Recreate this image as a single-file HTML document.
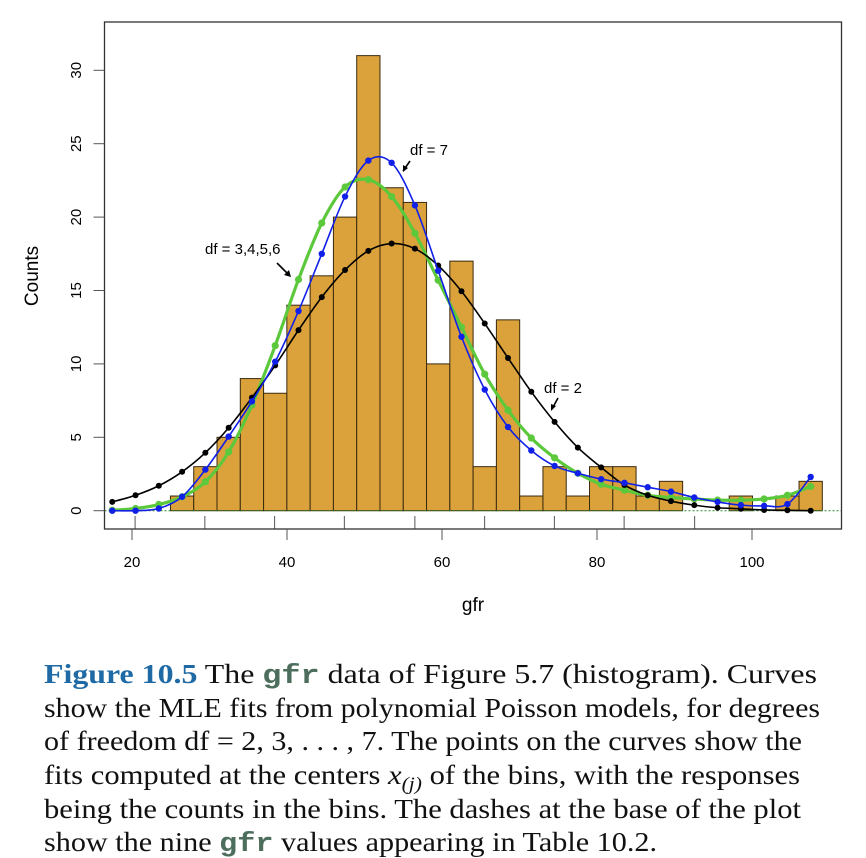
<!DOCTYPE html>
<html><head><meta charset="utf-8"><style>
html,body{margin:0;padding:0;background:#fff;width:866px;height:858px;overflow:hidden}
svg{display:block}
</style></head><body>
<svg id="chart" width="866" height="858" xmlns="http://www.w3.org/2000/svg">
<g id="bars"></g>
<g id="curves"></g>
<g id="axes"></g>
<g font-family="Liberation Sans, sans-serif" font-size="15" fill="#000">
<text x="410" y="155">df = 7</text>
<line x1="410" y1="161" x2="403" y2="171" stroke="#000" stroke-width="1.6"/>
<path d="M403,172 L403,165 L408,168 Z" fill="#000"/>
<text x="205" y="254">df = 3,4,5,6</text>
<line x1="277" y1="263" x2="290" y2="276" stroke="#000" stroke-width="1.6"/>
<path d="M291,277 L284,275 L289,270 Z" fill="#000"/>
<text x="544" y="393">df = 2</text>
<line x1="558" y1="398" x2="552" y2="409" stroke="#000" stroke-width="1.6"/>
<path d="M551,411 L551,404 L556,406 Z" fill="#000"/>
</g>
<text x="0" y="0" transform="translate(38,276) rotate(-90)" text-anchor="middle" font-family="Liberation Sans, sans-serif" font-size="19">Counts</text>
<text x="473" y="611" text-anchor="middle" font-family="Liberation Sans, sans-serif" font-size="19">gfr</text>
<g font-family="Liberation Serif, serif" font-size="27" fill="#111">
<text x="44" y="683" textLength="773" lengthAdjust="spacingAndGlyphs"><tspan fill="#1f6aa5" font-weight="bold">Figure 10.5</tspan>  The <tspan font-family="Liberation Mono, monospace" font-weight="bold" fill="#4d6e5d">gfr</tspan> data of Figure 5.7 (histogram). Curves</text>
<text x="44" y="717" textLength="776" lengthAdjust="spacingAndGlyphs">show the MLE fits from polynomial Poisson models, for degrees</text>
<text x="44" y="750" textLength="758" lengthAdjust="spacingAndGlyphs">of freedom df = 2, 3, . . . , 7. The points on the curves show the</text>
<text x="44" y="784" textLength="756" lengthAdjust="spacingAndGlyphs">fits computed at the centers <tspan font-style="italic">x</tspan><tspan font-size="19" font-style="italic" dy="6">(j)</tspan><tspan dy="-6"> of the bins, with the responses</tspan></text>
<text x="44" y="818" textLength="757" lengthAdjust="spacingAndGlyphs">being the counts in the bins. The dashes at the base of the plot</text>
<text x="44" y="851" textLength="613" lengthAdjust="spacingAndGlyphs">show the nine <tspan font-family="Liberation Mono, monospace" font-weight="bold" fill="#4d6e5d">gfr</tspan> values appearing in Table 10.2.</text>
</g>
</svg>
<script>
const binStart = 15.95;
const binWidth = 3.004;
const counts = [0,0,0,1,3,5,9,8,14,16,20,31,22,21,10,17,3,13,1,3,1,3,3,1,2,0,0,1,0,1,2];
const fitDf2 = [0.6,1.05,1.7,2.65,3.95,5.65,7.7,9.9,12.3,14.55,16.4,17.7,18.2,17.85,16.7,14.95,12.75,10.4,8.1,6.05,4.3,2.95,1.75,1.05,0.65,0.38,0.2,0.13,0.05,0.03,0.0];
const fitDf7 = [0,0,0.15,0.95,2.8,5.05,7.45,10.15,13.6,17.5,21.4,23.85,23.7,20.8,16.35,11.85,8.25,5.7,4.1,3.05,2.55,2.15,1.9,1.6,1.3,0.9,0.6,0.38,0.33,0.45,2.3];
const fitDf3456 = [0.03,0.15,0.42,0.95,1.97,4.0,7.2,11.25,15.75,19.6,22.05,22.55,21.4,18.9,15.7,12.5,9.3,6.85,4.95,3.6,2.55,1.8,1.4,1.05,0.9,0.8,0.72,0.72,0.8,1.05,1.65];
const rugValues = [20.4,29.4,38.4,47.4,56.5,65.5,74.5,83.5,92.6];
const xTicks = [20,40,60,80,100];
const yTicks = [0,5,10,15,20,25,30];

const NS='http://www.w3.org/2000/svg';
const X0=104.5,X1=841.5,Y0=22,Y1=529;
function sx(v){return 132+(v-20)*7.75;}
function sy(v){return 510.7-v*14.68;}
function mk(tag,attrs,parent){const e=document.createElementNS(NS,tag);for(const k in attrs)e.setAttribute(k,attrs[k]);parent.appendChild(e);return e;}
const bars=document.getElementById('bars'),curves=document.getElementById('curves'),axes=document.getElementById('axes');

counts.forEach((c,i)=>{
  if(c<=0)return;
  const a=binStart+i*binWidth,b=a+binWidth;
  const r=mk('rect',{x:sx(a),y:sy(c),width:sx(b)-sx(a),height:sy(0)-sy(c),fill:'#dba13a',stroke:'#3a2a10','stroke-width':1},bars);
  
  
});
const zl=mk('line',{x1:X0,x2:X1,y1:sy(0),y2:sy(0),stroke:'#2a8a2a','stroke-width':1,'stroke-dasharray':'2,2'},bars);



function spline(pts){
  let d='M'+pts[0][0]+','+pts[0][1];
  for(let i=0;i<pts.length-1;i++){
    const p0=pts[Math.max(0,i-1)],p1=pts[i],p2=pts[i+1],p3=pts[Math.min(pts.length-1,i+2)];
    const c1=[p1[0]+(p2[0]-p0[0])/6,p1[1]+(p2[1]-p0[1])/6];
    const c2=[p2[0]-(p3[0]-p1[0])/6,p2[1]-(p3[1]-p1[1])/6];
    d+=' C'+c1[0]+','+c1[1]+' '+c2[0]+','+c2[1]+' '+p2[0]+','+p2[1];
  }
  return d;
}
function series(vals,color,w,r,name){
  const g=mk('g',{},curves);
  
  
  const pts=vals.map((v,i)=>[sx(binStart+(i+0.5)*binWidth),sy(v)]);
  mk('path',{d:spline(pts),fill:'none',stroke:color,'stroke-width':w},g);
  pts.forEach(p=>{
    const c=mk('circle',{cx:p[0],cy:p[1],r:r,fill:color},g);
    
    
  });
}
series(fitDf3456,'#5cc83c',3.2,3.6,'curve-df3456');
series(fitDf2,'#000','1.6',3,'curve-df2');
series(fitDf7,'#1020e8','1.6',3.2,'curve-df7');

rugValues.forEach(v=>{
  const l=mk('line',{x1:sx(v),x2:sx(v),y1:516,y2:Y1,stroke:'#555','stroke-width':1},axes);
  
  
});
const box=mk('rect',{x:X0,y:Y0,width:X1-X0,height:Y1-Y0,fill:'none',stroke:'#333','stroke-width':1.3},axes);


xTicks.forEach(t=>{
  mk('line',{x1:sx(t),x2:sx(t),y1:Y1,y2:Y1+11,stroke:'#555','stroke-width':1},axes);
  const tx=mk('text',{x:sx(t),y:567,'text-anchor':'middle','font-family':'Liberation Sans, sans-serif','font-size':15},axes);
  tx.textContent=t;
  
  
});
yTicks.forEach(t=>{
  mk('line',{x1:X0-11,x2:X0,y1:sy(t),y2:sy(t),stroke:'#555','stroke-width':1},axes);
  const tx=mk('text',{x:0,y:0,transform:'translate(81,'+sy(t)+') rotate(-90)','text-anchor':'middle','font-family':'Liberation Sans, sans-serif','font-size':15},axes);
  tx.textContent=t;
  
  
});
</script>
</body></html>
